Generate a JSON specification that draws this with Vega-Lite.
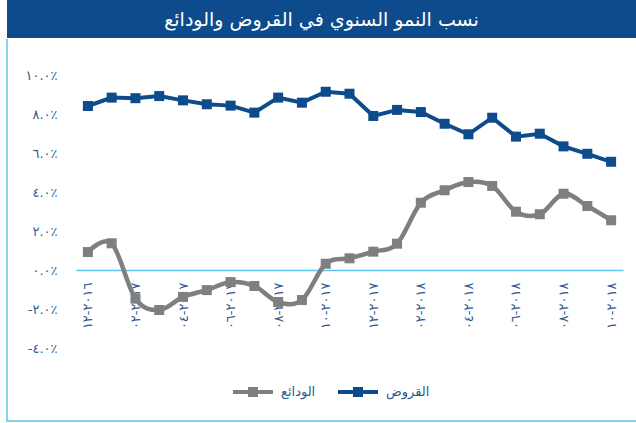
{
  "$schema": "https://vega.github.io/schema/vega-lite/v6.json",
  "padding": {"left": 6, "top": 0, "right": 0, "bottom": 0},
  "background": "white",
  "spacing": 0,
  "config": {"font": "DejaVu Sans", "view": {"stroke": null}},
  "datasets": {
    "growth": [
      {"month": "١٢-٢٠١٦", "series": "القروض", "value": 8.41},
      {"month": "٠١-٢٠١٧", "series": "القروض", "value": 8.84},
      {"month": "٠٢-٢٠١٧", "series": "القروض", "value": 8.81},
      {"month": "٠٣-٢٠١٧", "series": "القروض", "value": 8.92},
      {"month": "٠٤-٢٠١٧", "series": "القروض", "value": 8.70},
      {"month": "٠٥-٢٠١٧", "series": "القروض", "value": 8.50},
      {"month": "٠٦-٢٠١٧", "series": "القروض", "value": 8.43},
      {"month": "٠٧-٢٠١٧", "series": "القروض", "value": 8.07},
      {"month": "٠٨-٢٠١٧", "series": "القروض", "value": 8.84},
      {"month": "٠٩-٢٠١٧", "series": "القروض", "value": 8.58},
      {"month": "١٠-٢٠١٧", "series": "القروض", "value": 9.14},
      {"month": "١١-٢٠١٧", "series": "القروض", "value": 9.04},
      {"month": "١٢-٢٠١٧", "series": "القروض", "value": 7.90},
      {"month": "٠١-٢٠١٨", "series": "القروض", "value": 8.21},
      {"month": "٠٢-٢٠١٨", "series": "القروض", "value": 8.10},
      {"month": "٠٣-٢٠١٨", "series": "القروض", "value": 7.50},
      {"month": "٠٤-٢٠١٨", "series": "القروض", "value": 6.96},
      {"month": "٠٥-٢٠١٨", "series": "القروض", "value": 7.81},
      {"month": "٠٦-٢٠١٨", "series": "القروض", "value": 6.84},
      {"month": "٠٧-٢٠١٨", "series": "القروض", "value": 6.99},
      {"month": "٠٨-٢٠١٨", "series": "القروض", "value": 6.34},
      {"month": "٠٩-٢٠١٨", "series": "القروض", "value": 5.96},
      {"month": "١٠-٢٠١٨", "series": "القروض", "value": 5.55},
      {"month": "١٢-٢٠١٦", "series": "الودائع", "value": 0.92},
      {"month": "٠١-٢٠١٧", "series": "الودائع", "value": 1.37},
      {"month": "٠٢-٢٠١٧", "series": "الودائع", "value": -1.47},
      {"month": "٠٣-٢٠١٧", "series": "الودائع", "value": -2.05},
      {"month": "٠٤-٢٠١٧", "series": "الودائع", "value": -1.38},
      {"month": "٠٥-٢٠١٧", "series": "الودائع", "value": -1.03},
      {"month": "٠٦-٢٠١٧", "series": "الودائع", "value": -0.62},
      {"month": "٠٧-٢٠١٧", "series": "الودائع", "value": -0.82},
      {"month": "٠٨-٢٠١٧", "series": "الودائع", "value": -1.64},
      {"month": "٠٩-٢٠١٧", "series": "الودائع", "value": -1.54},
      {"month": "١٠-٢٠١٧", "series": "الودائع", "value": 0.32},
      {"month": "١١-٢٠١٧", "series": "الودائع", "value": 0.60},
      {"month": "١٢-٢٠١٧", "series": "الودائع", "value": 0.94},
      {"month": "٠١-٢٠١٨", "series": "الودائع", "value": 1.35},
      {"month": "٠٢-٢٠١٨", "series": "الودائع", "value": 3.45},
      {"month": "٠٣-٢٠١٨", "series": "الودائع", "value": 4.09},
      {"month": "٠٤-٢٠١٨", "series": "الودائع", "value": 4.51},
      {"month": "٠٥-٢٠١٨", "series": "الودائع", "value": 4.31},
      {"month": "٠٦-٢٠١٨", "series": "الودائع", "value": 2.99},
      {"month": "٠٧-٢٠١٨", "series": "الودائع", "value": 2.86},
      {"month": "٠٨-٢٠١٨", "series": "الودائع", "value": 3.91},
      {"month": "٠٩-٢٠١٨", "series": "الودائع", "value": 3.28},
      {"month": "١٠-٢٠١٨", "series": "الودائع", "value": 2.55}
    ]
  },
  "vconcat": [
    {
      "width": 629,
      "height": 38,
      "view": {"fill": "#0d4b8c", "stroke": null},
      "data": {"values": [{"title": "نسب النمو السنوي في القروض والودائع"}]},
      "mark": {"type": "text", "color": "white", "fontSize": 19, "font": "DejaVu Sans", "dy": 1},
      "encoding": {"text": {"field": "title"}}
    },
    {
      "width": 629,
      "height": 382,
      "view": {"stroke": "#5bc8ef", "strokeWidth": 1.5, "strokeDash": [0, 1011, 1011, 0]},
      "data": {"name": "growth"},
      "encoding": {
        "x": {
          "field": "month",
          "type": "ordinal",
          "sort": null,
          "scale": {"type": "point", "range": [69, 616], "padding": 0.5},
          "axis": {
            "title": null,
            "values": ["١٢-٢٠١٦", "٠٢-٢٠١٧", "٠٤-٢٠١٧", "٠٦-٢٠١٧", "٠٨-٢٠١٧", "١٠-٢٠١٧", "١٢-٢٠١٧", "٠٢-٢٠١٨", "٠٤-٢٠١٨", "٠٦-٢٠١٨", "٠٨-٢٠١٨", "١٠-٢٠١٨"],
            "labelAngle": 270,
            "labelPadding": 12,
            "ticks": false,
            "grid": false,
            "domainColor": "#5bc8ef",
            "domainWidth": 1.5,
            "labelColor": "#2f5b8c",
            "labelFontSize": 13,
            "labelOverlap": false,
            "offset": -151,
            "labelExpr": "replace(datum.value, '-', '\u200e-\u200e')"
          }
        },
        "y": {
          "field": "value",
          "type": "quantitative",
          "scale": {"domain": [-4, 10], "range": [309, 36], "nice": false, "zero": false},
          "axis": {
            "title": null,
            "values": [-4, -2, 0, 2, 4, 6, 8, 10],
            "domain": false,
            "ticks": false,
            "grid": false,
            "offset": -69,
            "labelPadding": 19,
            "labelColor": "#2f5b8c",
            "labelFontSize": 13,
            "labelExpr": "datum.value == 10 ? '١٠.٠٪' : datum.value == 8 ? '٨.٠٪' : datum.value == 6 ? '٦.٠٪' : datum.value == 4 ? '٤.٠٪' : datum.value == 2 ? '٢.٠٪' : datum.value == 0 ? '٠.٠٪' : datum.value == -2 ? '-٢.٠٪' : '-٤.٠٪'"
          }
        },
        "color": {
          "field": "series",
          "type": "nominal",
          "scale": {"domain": ["الودائع", "القروض"], "range": ["#7f7f7f", "#0d4b8c"]},
          "legend": {
            "title": null,
            "orient": "none",
            "legendX": 224,
            "legendY": 370,
            "direction": "horizontal",
            "symbolType": "M-1,0H1M-0.15,-0.15H0.15V0.15H-0.15Z",
            "symbolSize": 1600,
            "symbolStrokeWidth": 4,
            "symbolOpacity": 1,
            "labelFontSize": 13,
            "labelColor": "#2f5b8c",
            "labelOffset": 6,
            "columnPadding": 14,
            "encode": {
              "symbols": {
                "update": {
                  "fill": {"scale": "color", "field": "value"},
                  "stroke": {"scale": "color", "field": "value"},
                  "opacity": {"value": 1}
                }
              }
            }
          }
        }
      },
      "layer": [
        {
          "transform": [{"filter": "datum.series == 'الودائع'"}],
          "mark": {"type": "line", "strokeWidth": 4.5, "interpolate": "cardinal"}
        },
        {
          "transform": [{"filter": "datum.series == 'القروض'"}],
          "mark": {"type": "line", "strokeWidth": 4}
        },
        {
          "mark": {"type": "point", "shape": "square", "filled": true, "size": 100, "opacity": 1}
        }
      ]
    }
  ]
}
